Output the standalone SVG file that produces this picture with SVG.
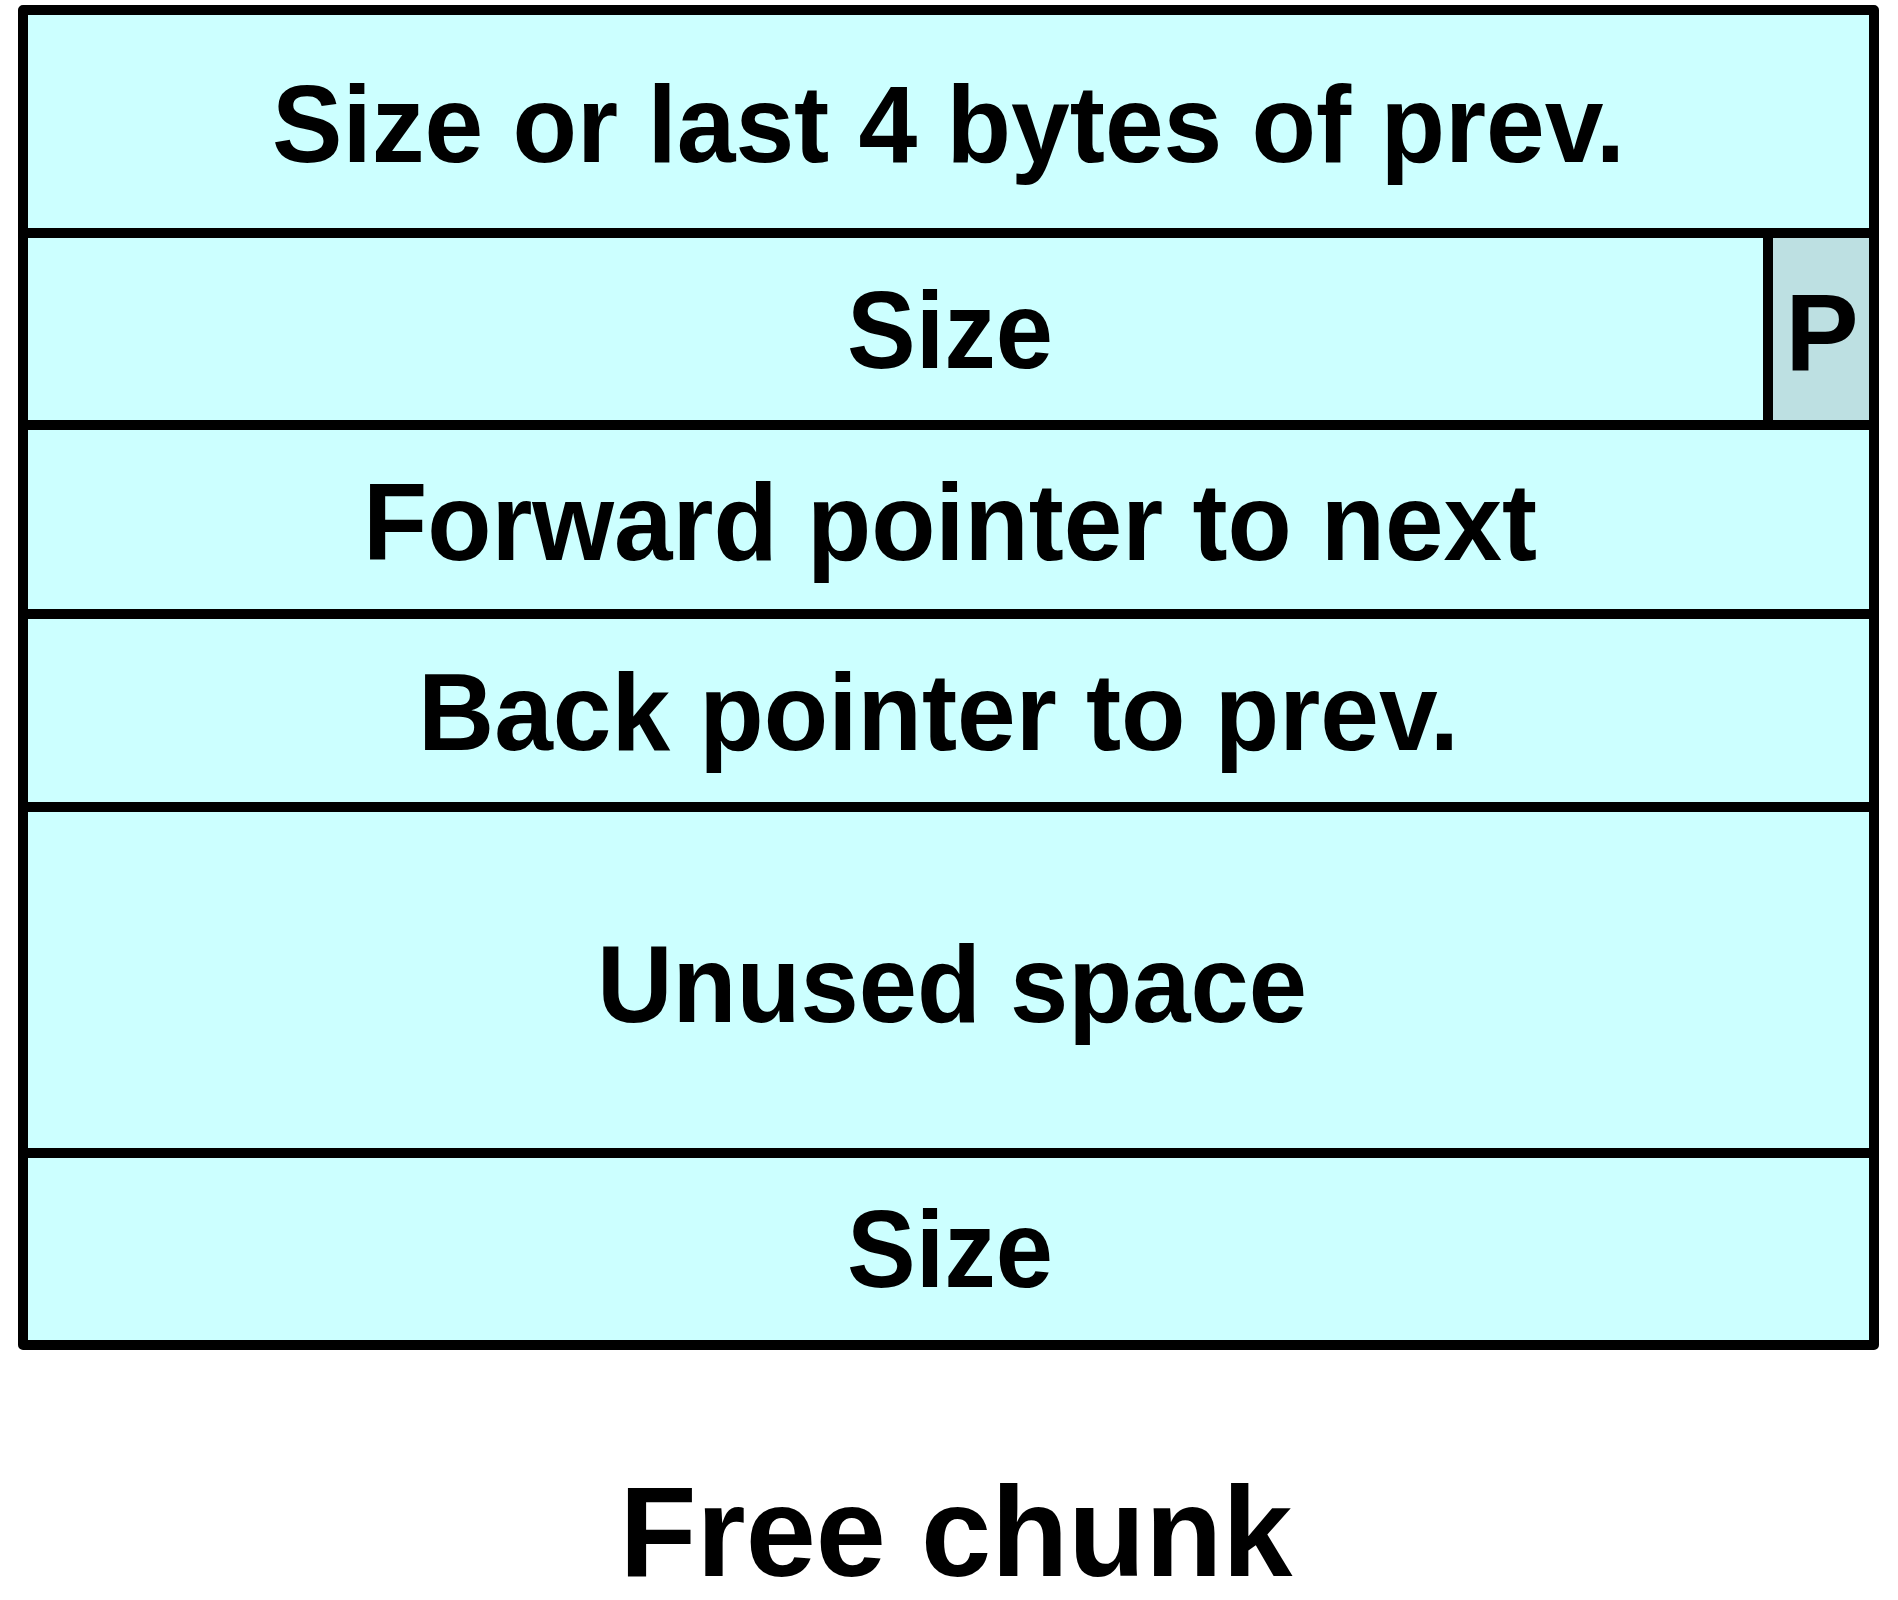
<svg xmlns="http://www.w3.org/2000/svg" width="1898" height="1600" viewBox="0 0 1898 1600">
<style>
.cell{fill:#CCFFFF;stroke:#000;stroke-width:10;stroke-linejoin:round}
.flag{fill:#BDE0E2;stroke:#000;stroke-width:10}
.lbl{font-family:"Liberation Sans",Arial,sans-serif;font-weight:bold;font-size:110px;fill:#000;text-anchor:middle}
.title{font-family:"Liberation Sans",Arial,sans-serif;font-weight:bold;font-size:128px;fill:#000;text-anchor:middle}
</style>
<rect x="0" y="0" width="1898" height="1600" fill="#fff"/>
<g id="row-prevsize">
<rect class="cell" x="23" y="10" width="1851" height="223"/>
<text class="lbl" x="948.5" y="162" textLength="1353" lengthAdjust="spacingAndGlyphs">Size or last 4 bytes of prev.</text>
</g>
<g id="row-size">
<rect class="cell" x="23" y="233" width="1851" height="192"/>
<text class="lbl" x="950" y="368" textLength="206" lengthAdjust="spacingAndGlyphs">Size</text>
</g>
<g id="flag-p">
<rect class="flag" x="1768" y="233" width="106" height="192"/>
<text class="lbl" x="1822" y="371">P</text>
</g>
<g id="row-fwd">
<rect class="cell" x="23" y="425" width="1851" height="189"/>
<text class="lbl" x="950" y="560" textLength="1174" lengthAdjust="spacingAndGlyphs">Forward pointer to next</text>
</g>
<g id="row-back">
<rect class="cell" x="23" y="614" width="1851" height="193"/>
<text class="lbl" x="938.5" y="750" textLength="1041" lengthAdjust="spacingAndGlyphs">Back pointer to prev.</text>
</g>
<g id="row-unused">
<rect class="cell" x="23" y="807" width="1851" height="346"/>
<text class="lbl" x="952" y="1022" textLength="710" lengthAdjust="spacingAndGlyphs">Unused space</text>
</g>
<g id="row-footer-size">
<rect class="cell" x="23" y="1153" width="1851" height="192"/>
<text class="lbl" x="950" y="1287" textLength="206" lengthAdjust="spacingAndGlyphs">Size</text>
</g>
<g id="connectors"></g>
<g id="caption">
<text class="title" x="956" y="1576" textLength="673" lengthAdjust="spacingAndGlyphs">Free chunk</text>
</g>
</svg>
